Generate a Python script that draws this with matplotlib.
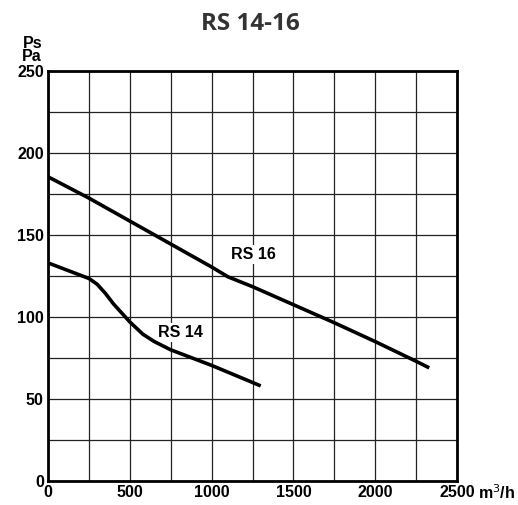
import matplotlib
matplotlib.use("Agg")
import matplotlib.pyplot as plt
import numpy as np

# flow (m3/h) and static pressure (Pa)
rs16_flow = [0, 250, 500, 750, 1000, 1100, 1250, 1500, 1750, 2000, 2250, 2330]
rs16_ps = [185.5, 172.5, 158.5, 144.5, 130.5, 124.5, 118.5, 107.5, 96.5, 85, 73, 69]

rs14_flow = [0, 250, 300, 350, 400, 500, 580, 650, 750, 1000, 1300]
rs14_ps = [133, 123.5, 120, 114.5, 108, 97, 89.5, 85, 80, 70.5, 58]

x_ticks = [0, 500, 1000, 1500, 2000, 2500]
y_ticks = [0, 50, 100, 150, 200, 250]

plt.rcParams["font.family"] = ["Liberation Sans", "DejaVu Sans"]
fs = 11.5

fig = plt.figure(figsize=(5.18, 5.05), dpi=100)
ax = fig.add_axes([0.0927, 0.0475, 0.7896, 0.8119])

ax.set_xlim(0, 2500)
ax.set_ylim(0, 250)
ax.set_xticks(np.arange(0, 2501, 250), minor=True)
ax.set_yticks(np.arange(0, 251, 25), minor=True)
ax.set_xticks(x_ticks)
ax.set_yticks(y_ticks)
ax.set_xticklabels([str(v) for v in x_ticks], fontsize=fs, fontweight="bold")
ax.set_yticklabels([str(v) for v in y_ticks], fontsize=fs, fontweight="bold")
ax.tick_params(which="both", length=0, pad=3)
ax.grid(which="both", color="#222222", lw=0.9)
ax.set_axisbelow(True)
for s in ax.spines.values():
    s.set_linewidth(2)
    s.set_zorder(5)

ax.plot(rs16_flow, rs16_ps, color="black", lw=2.6, solid_capstyle="butt",
        solid_joinstyle="round", zorder=3)
ax.plot(rs14_flow, rs14_ps, color="black", lw=2.6, solid_capstyle="butt",
        solid_joinstyle="round", zorder=3)

# labels mask the grid behind them but stay under the curves
box = dict(facecolor="white", edgecolor="none", pad=1.5)
ax.text(1253, 138, "RS 16", ha="center", va="center", fontsize=fs,
        fontweight="bold", bbox=box, zorder=2.5)
ax.text(810, 90.4, "RS 14", ha="center", va="center", fontsize=fs,
        fontweight="bold", bbox=box, zorder=2.5)

# axis units
fig.text(42 / 518, 1 - 50 / 505, "Ps\nPa", ha="right", va="center",
         fontsize=fs, fontweight="bold", linespacing=0.8)
fig.text(478 / 518, 1 - 493 / 505, "m$^3$/h", ha="left", va="center",
         fontsize=fs, fontweight="bold")

fig.text(250 / 518, 1 - 24 / 505, "RS 14-16", ha="center", va="center",
         fontsize=17.5, fontweight="bold", color="#333333", family="Open Sans")

fig.savefig("out.png", dpi=100)
